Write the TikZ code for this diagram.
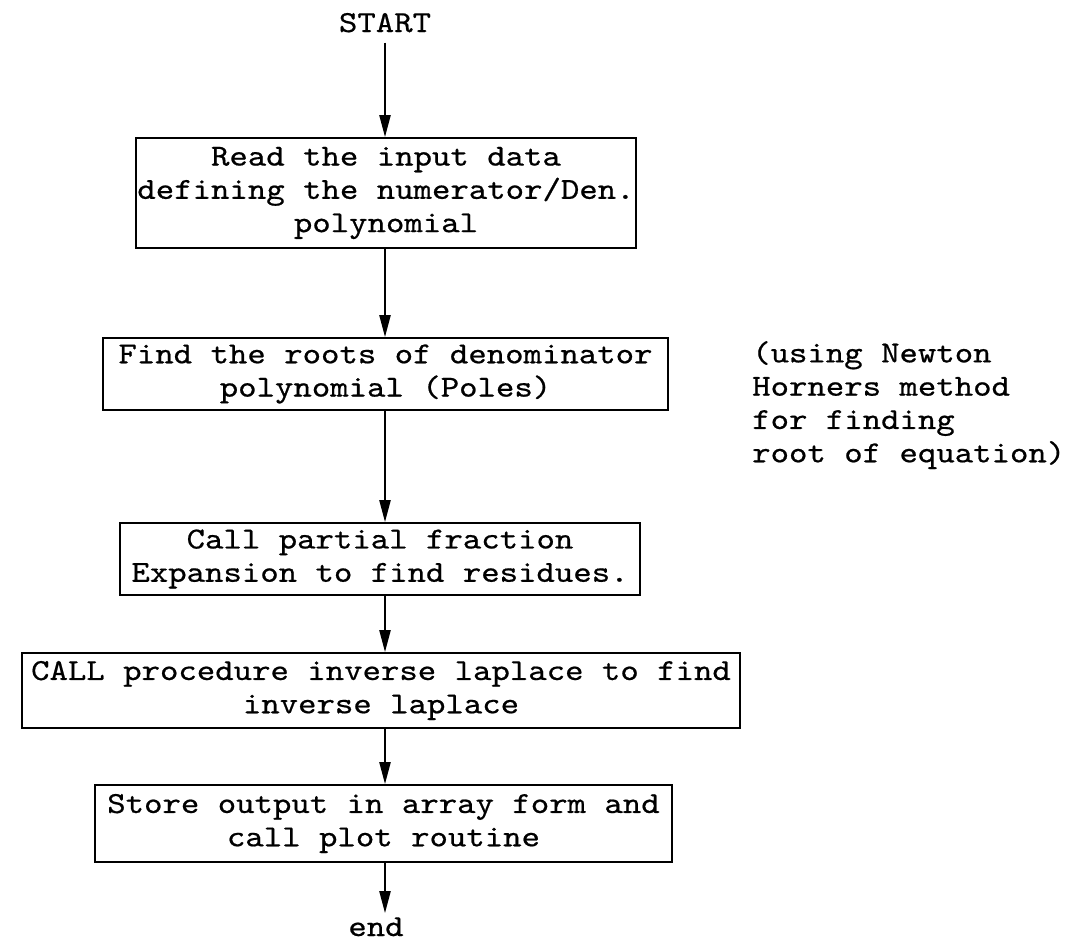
\documentclass[tikz,border=0pt]{standalone}
\usepackage{fontspec}
\usetikzlibrary{arrows.meta}
% typewriter face, widened a little to get typewriter pitch
\newfontfamily\typewriter{lmmono10-regular.otf}[FakeStretch=1.15,FakeBold=0.6]
\begin{document}
\begin{tikzpicture}[x=1pt,y=-1pt,
  every node/.style={font=\typewriter\fontsize{30.5}{33.3}\selectfont},
  procbox/.style={draw, line width=1.7pt, inner sep=0pt, align=center},
  label/.style={inner sep=0pt},
  flow/.style={line width=2.2pt, -{Triangle[length=22pt,width=11pt]}},
]
\useasboundingbox (0,0) rectangle (1067,945);
\coordinate (axis) at (385,0);

\node[label, anchor=base] (start) at (385,32) {START};

\node[procbox, minimum width=500pt, minimum height=110pt] (read) at (386,193)
  {Read the input data\\defining the numerator/Den.\\polynomial};
\node[procbox, minimum width=565pt, minimum height=72pt] (roots) at (385.5,374)
  {Find the roots of denominator\\polynomial (Poles)};
\node[procbox, minimum width=520pt, minimum height=72pt] (frac) at (380,559)
  {Call partial fraction\\Expansion to find residues.};
\node[procbox, minimum width=718pt, minimum height=75pt] (inv) at (381,690.5)
  {CALL procedure inverse laplace to find\\inverse laplace};
\node[procbox, minimum width=577pt, minimum height=77pt] (store) at (383.5,823.5)
  {Store output in array form and\\call plot routine};

\node[label, anchor=base] (end) at (376,936) {end};

\node[label, align=left, anchor=north west] (note) at (752,341)
  {(using Newton\\Horners method\\for finding\\root of equation)};

\draw[flow, shorten <=10pt] (start.south -| axis) -- (read.north -| axis);
\draw[flow] (read.south -| axis) -- (roots.north -| axis);
\draw[flow] (roots.south -| axis) -- (frac.north -| axis);
\draw[flow] (frac.south -| axis) -- (inv.north -| axis);
\draw[flow] (inv.south -| axis) -- (store.north -| axis);
\draw[flow, shorten >=4pt] (store.south -| axis) -- (end.north -| axis);
\end{tikzpicture}
\end{document}
